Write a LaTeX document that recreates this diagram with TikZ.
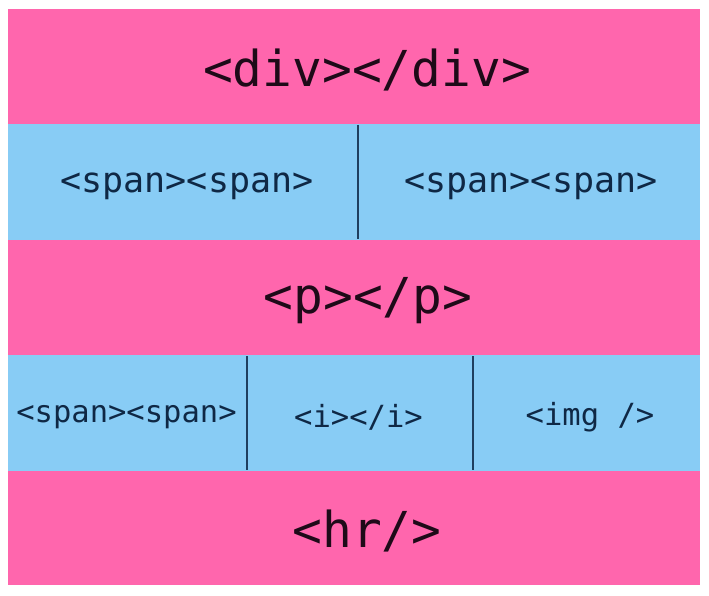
\documentclass[tikz,border=0pt]{standalone}
\usepackage{fontspec}
\setmonofont{DejaVu Sans Mono}
\definecolor{rowpink}{HTML}{FF66AD}
\definecolor{rowblue}{HTML}{88CCF5}
\definecolor{pinktext}{HTML}{1E0A18}
\definecolor{bluetext}{HTML}{0F2845}
\definecolor{divider}{HTML}{1F3F5F}
\tikzset{
  big/.style={font=\ttfamily\fontsize{49.5}{50}\selectfont, text=pinktext, inner sep=0pt},
  mid/.style={font=\ttfamily\fontsize{35}{36}\selectfont, text=bluetext, inner sep=0pt},
  small/.style={font=\ttfamily\fontsize{30.5}{31}\selectfont, text=bluetext, inner sep=0pt},
  cellline/.style={draw=divider, line width=2pt}
}
\begin{document}
\begin{tikzpicture}[x=1pt,y=-1pt]
\useasboundingbox (0,0) rectangle (709,596);
\fill[white] (0,0) rectangle (709,596);
% rows
\fill[rowpink] (8,9) rectangle (700,124);
\fill[rowblue] (8,124) rectangle (700,240);
\fill[rowpink] (8,240) rectangle (700,355);
\fill[rowblue] (8,355) rectangle (700,471);
\fill[rowpink] (8,471) rectangle (700,585);
% dividers
\coordinate (d1t) at (358,125);
\coordinate (d1b) at (358,239);
\coordinate (d2t) at (247,356);
\coordinate (d2b) at (247,470);
\coordinate (d3t) at (473,356);
\coordinate (d3b) at (473,470);
\draw[cellline] (d1t) -- (d1b);
\draw[cellline] (d2t) -- (d2b);
\draw[cellline] (d3t) -- (d3b);
% texts
\node[big] (div) at (367,69.5) {<div></div>};
\node[mid] (span1) at (187,186) {<span><span>};
\node[mid] (span2) at (531,186) {<span><span>};
\node[big] (p) at (368,301) {<p></p>};
\node[small] (span3) at (126.5,417) {<span><span>};
\node[small] (i) at (358.5,417) {<i></i>};
\node[small] (img) at (590,417) {<img />};
\node[big] (hr) at (367,530.5) {<hr/>};
\end{tikzpicture}
\end{document}
